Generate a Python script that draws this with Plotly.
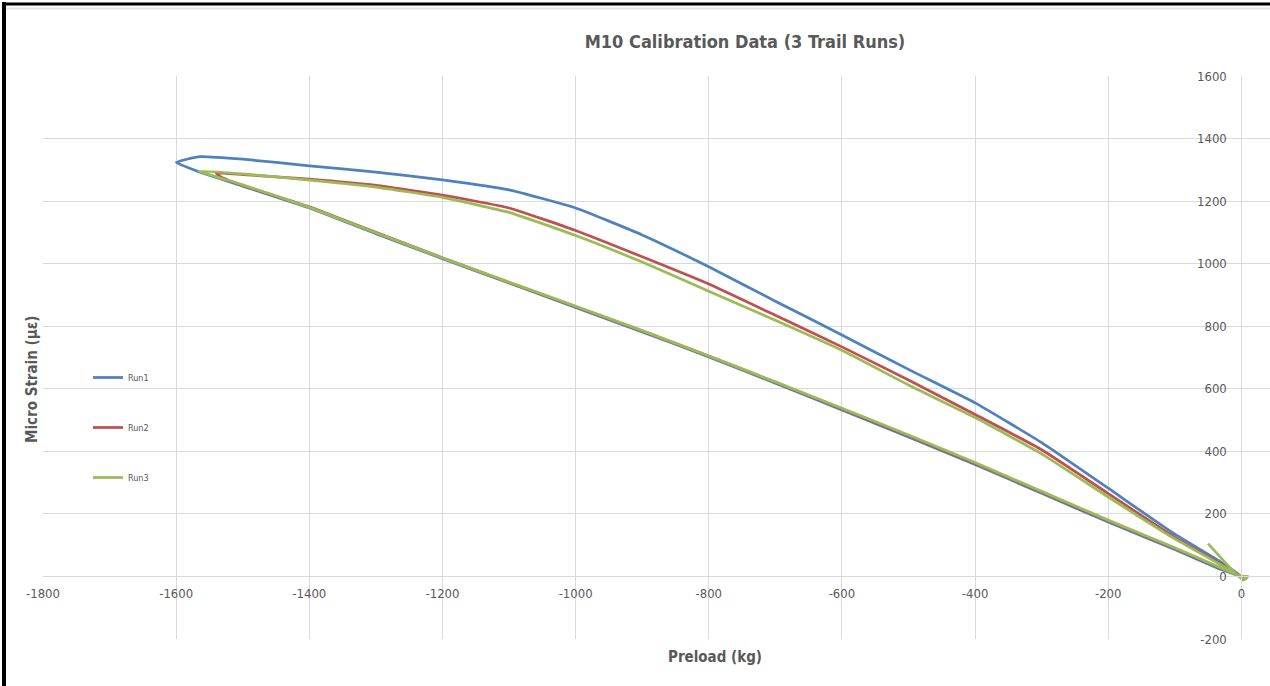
import plotly.graph_objects as go

# ---- measured data: preload (kg) vs micro strain (µε) for three calibration runs ----
run1_preload = [0, -30, -100, -200, -300, -400, -500, -600, -700, -800, -900, -1000,
                -1100, -1200, -1300, -1400, -1500, -1566, -1600, -1564, -1500, -1400,
                -1300, -1200, -1100, -1000, -900, -800, -700, -600, -500, -400, -300,
                -200, -100, -30, 0]
run1_strain = [0, 22, 86, 174, 266, 358, 446, 532, 618, 702, 782, 860,
               938, 1016, 1096, 1178, 1248, 1294, 1324, 1342, 1334, 1313,
               1293, 1268, 1236, 1178, 1092, 990, 880, 772, 662, 555, 428,
               282, 135, 45, 0]

run2_preload = [0, -30, -100, -200, -300, -400, -500, -600, -700, -800, -900, -1000,
                -1100, -1200, -1300, -1400, -1500, -1535, -1540, -1500, -1400, -1300,
                -1200, -1100, -1000, -900, -800, -700, -600, -500, -400, -300, -200,
                -100, -30, 0, 8, 4]
run2_strain = [0, 26, 90, 178, 270, 362, 450, 536, 621, 705, 785, 863,
               940, 1019, 1100, 1182, 1250, 1280, 1290, 1285, 1270, 1250,
               1219, 1178, 1106, 1022, 935, 835, 734, 628, 518, 405, 265,
               125, 38, 0, -5, 2]

run3_preload = [-50, 3, 10, 0, -100, -200, -300, -400, -500, -600, -700, -800, -900,
                -1000, -1100, -1200, -1300, -1400, -1500, -1566, -1500, -1400, -1300,
                -1200, -1100, -1000, -900, -800, -700, -600, -500, -400, -300, -200,
                -100, -30, 0]
run3_strain = [105, -12, 0, 0, 92, 180, 272, 364, 452, 538, 622, 705, 786,
               864, 941, 1018, 1099, 1180, 1252, 1296, 1287, 1267, 1245,
               1212, 1164, 1090, 1005, 912, 819, 723, 612, 508, 392, 254,
               120, 36, -5]

series_names = ["Run1", "Run2", "Run3"]
series_colors = ["#4F81BD", "#C0504D", "#9BBB59"]

x_ticks = list(range(-1800, 1, 200))
y_ticks = list(range(-200, 1601, 200))

# ---- geometry of the plotting area (pixels) ----
W, H = 1270, 686
L, R, T, B = 43, 0, 76, 47
X_MIN, X_MAX = -1800, 43
Y_MIN, Y_MAX = -200, 1600
PW, PH = W - L - R, H - T - B


def px_x(p):
    return (p - L) / PW


def px_y(p):
    return (H - B - p) / PH


TEXT = "#595959"
GRID = "#D9D9D9"
FONT = "Liberation Sans Narrow, DejaVu Sans Condensed, Open Sans, sans-serif"

fig = go.Figure()
for name, color, xs, ys in zip(series_names, series_colors,
                               [run1_preload, run2_preload, run3_preload],
                               [run1_strain, run2_strain, run3_strain]):
    fig.add_trace(go.Scatter(
        x=xs, y=ys, mode="lines", name=name, legendgroup=name,
        line=dict(color=color, width=2.75, shape="spline", smoothing=0.4),
    ))

# axes cross at zero, as in a spreadsheet chart
fig.update_xaxes(
    range=[X_MIN, X_MAX], tickvals=x_ticks, ticktext=[str(v) for v in x_ticks],
    showgrid=True, gridcolor=GRID, gridwidth=1, zeroline=False,
    showline=True, linecolor=GRID, linewidth=1, ticks="",
    anchor="free", position=(0 - Y_MIN) / (Y_MAX - Y_MIN),
    ticklabelstandoff=5, tickfont=dict(family=FONT, size=13, color=TEXT),
)
fig.update_yaxes(
    range=[Y_MIN, Y_MAX], tickvals=y_ticks, ticktext=[str(v) for v in y_ticks],
    showgrid=True, gridcolor=GRID, gridwidth=1, zeroline=False,
    showline=True, linecolor=GRID, linewidth=1, ticks="",
    anchor="free", position=(0 - X_MIN) / (X_MAX - X_MIN), side="left",
    ticklabelstandoff=12, tickfont=dict(family=FONT, size=13, color=TEXT),
)

fig.update_layout(
    width=W, height=H, autosize=False,
    margin=dict(l=L, r=R, t=T, b=B, pad=0),
    paper_bgcolor="white", plot_bgcolor="white",
    font=dict(family=FONT, color=TEXT),
    title=dict(
        text="<b>M10 Calibration Data (3 Trail Runs)</b>",
        font=dict(family=FONT, size=18, color=TEXT),
        xref="paper", x=px_x(745), xanchor="center",
        yref="container", y=1 - 42 / H, yanchor="middle",
    ),
    legend=dict(
        x=px_x(88), y=px_y(363), xanchor="left", yanchor="top",
        font=dict(family=FONT, size=9, color=TEXT),
        tracegroupgap=31, bgcolor="rgba(0,0,0,0)",
    ),
    showlegend=True,
    annotations=[
        dict(text="<b>Preload (kg)</b>", xref="paper", yref="paper",
             x=px_x(715), y=px_y(657), xanchor="center", yanchor="middle",
             showarrow=False, font=dict(family=FONT, size=15, color=TEXT)),
        dict(text="<b>Micro Strain (με)</b>", xref="paper", yref="paper",
             x=px_x(32), y=px_y(380), xanchor="center", yanchor="middle",
             textangle=-90, showarrow=False,
             font=dict(family=FONT, size=15, color=TEXT)),
    ],
    shapes=[
        # frame around the chart
        dict(type="line", xref="paper", yref="paper",
             x0=px_x(4), x1=px_x(4), y0=px_y(H + 5), y1=px_y(2),
             line=dict(color="black", width=4)),
        dict(type="line", xref="paper", yref="paper",
             x0=px_x(2), x1=px_x(W + 5), y0=px_y(4), y1=px_y(4),
             line=dict(color="black", width=3)),
        dict(type="line", xref="paper", yref="paper",
             x0=px_x(6), x1=px_x(W + 5), y0=px_y(8.5), y1=px_y(8.5),
             line=dict(color="#E6E6E6", width=2)),
    ],
)

fig.write_html("out.html")
